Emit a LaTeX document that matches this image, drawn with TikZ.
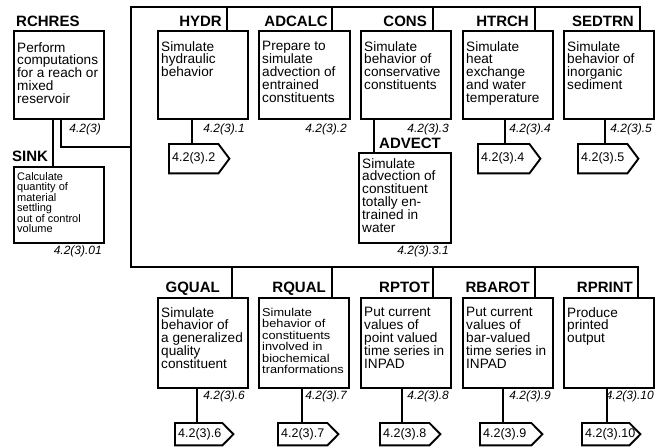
\documentclass[tikz,border=0pt]{standalone}
\usepackage{fontspec}
\setmainfont{Liberation Sans}
\newfontfamily\widesans[FakeStretch=1.12]{Liberation Sans}
\usetikzlibrary{calc}
\tikzset{
  box/.style={draw, line width=1.9pt, anchor=north west, inner sep=0pt, minimum height=88pt},
  boxtext/.style={anchor=north west, inner sep=0pt, align=left, font=\fontsize{13.6}{12.9}\selectfont},
  smalltext/.style={anchor=north west, inner sep=0pt, align=left, font=\widesans\fontsize{11.4}{11.4}\selectfont},
  tinytext/.style={anchor=north west, inner sep=0pt, align=left, font=\fontsize{11}{10}\selectfont},
  lab/.style={inner sep=0pt, font=\fontsize{15}{15}\selectfont\bfseries},
  num/.style={anchor=base east, inner sep=0pt, font=\fontsize{12}{12}\selectfont\itshape},
  conn/.style={anchor=north west, inner sep=0pt, minimum height=29pt, font=\fontsize{12.5}{12.5}\selectfont},
  ctext/.style={anchor=west, inner sep=0pt, font=\fontsize{12.5}{12.5}\selectfont},
  wire/.style={line width=1.9pt, line join=miter},
}
\newcommand{\pentagon}[1]{\draw[wire] (#1.north west) -- ($(#1.north east)+(-11,0)$) -- (#1.east) -- ($(#1.south east)+(-11,0)$) -- (#1.south west) -- cycle;}
\begin{document}
\begin{tikzpicture}[x=1pt,y=-1pt]
\useasboundingbox (0,0) rectangle (661,447);

% ---------- top row boxes
\node[box, minimum width=90pt] (rchres) at (13,30) {};
\node[box, minimum width=90pt] (hydr) at (157,30) {};
\node[box, minimum width=91pt] (adcalc) at (258,30) {};
\node[box, minimum width=90pt] (cons) at (360,30) {};
\node[box, minimum width=90pt] (htrch) at (462,30) {};
\node[box, minimum width=90pt] (sedtrn) at (563,30) {};
\node[box, minimum width=92pt, minimum height=90pt] (advect) at (358,152) {};
\node[box, minimum width=90pt, minimum height=76pt] (sink) at (13,166) {};

% ---------- bottom row boxes
\node[box, minimum width=90pt, minimum height=90pt] (gqual) at (157,297) {};
\node[box, minimum width=90pt, minimum height=90pt] (rqual) at (258,297) {};
\node[box, minimum width=90pt, minimum height=90pt] (rptot) at (360,297) {};
\node[box, minimum width=90pt, minimum height=90pt] (rbarot) at (462,297) {};
\node[box, minimum width=90pt, minimum height=90pt] (rprint) at (563,297) {};

% ---------- box texts
\node[boxtext] (rchres-t) at (17,42) {Perform\\computations\\for a reach or\\mixed\\reservoir};
\node[boxtext] (hydr-t) at (161,41) {Simulate\\hydraulic\\behavior};
\node[boxtext] (adcalc-t) at (262,41) {Prepare to\\simulate\\advection of\\entrained\\constituents};
\node[boxtext] (cons-t) at (364,41) {Simulate\\behavior of\\conservative\\constituents};
\node[boxtext] (htrch-t) at (466,41) {Simulate\\heat\\exchange\\and water\\temperature};
\node[boxtext] (sedtrn-t) at (567,41) {Simulate\\behavior of\\inorganic\\sediment};
\node[boxtext] (advect-t) at (362,158) {Simulate\\advection of\\constituent\\totally en-\\trained in\\water};
\node[tinytext] (sink-t) at (17,172) {Calculate\\quantity of\\material\\settling\\out of control\\volume};
\node[boxtext] (gqual-t) at (161,307) {Simulate\\behavior of\\a generalized\\quality\\constituent};
\node[smalltext] (rqual-t) at (262,308) {Simulate\\behavior of\\constituents\\involved in\\biochemical\\tranformations};
\node[boxtext] (rptot-t) at (364,307) {Put current\\values of\\point valued\\time series in\\INPAD};
\node[boxtext] (rbarot-t) at (466,307) {Put current\\values of\\bar-valued\\time series in\\INPAD};
\node[boxtext] (rprint-t) at (567,307) {Produce\\printed\\output};

% ---------- labels
\node[lab, anchor=base west] (rchres-l) at (16,27) {RCHRES};
\node[lab, anchor=base east] (hydr-l) at (222,27) {HYDR};
\node[lab, anchor=base east] (adcalc-l) at (328,27) {ADCALC};
\node[lab, anchor=base east] (cons-l) at (427,27) {CONS};
\node[lab, anchor=base east] (htrch-l) at (529,27) {HTRCH};
\node[lab, anchor=base east] (sedtrn-l) at (634,27) {SEDTRN};
\node[lab, anchor=base west] (advect-l) at (379,148) {ADVECT};
\node[lab, anchor=base west] (sink-l) at (12,161) {SINK};
\node[lab, anchor=base east] (gqual-l) at (220,292) {GQUAL};
\node[lab, anchor=base east] (rqual-l) at (326,292) {RQUAL};
\node[lab, anchor=base east] (rptot-l) at (430,292) {RPTOT};
\node[lab, anchor=base east] (rbarot-l) at (530,292) {RBAROT};
\node[lab, anchor=base east] (rprint-l) at (633,292) {RPRINT};

% ---------- numbers
\node[num] (rchres-n) at (101,132) {4.2(3)};
\node[num] (hydr-n) at (245,132) {4.2(3).1};
\node[num] (adcalc-n) at (347,132) {4.2(3).2};
\node[num] (cons-n) at (449,132) {4.2(3).3};
\node[num] (htrch-n) at (551,132) {4.2(3).4};
\node[num] (sedtrn-n) at (652,132) {4.2(3).5};
\node[num] (advect-n) at (449,254) {4.2(3).3.1};
\node[num] (sink-n) at (102,254) {4.2(3).01};
\node[num] (gqual-n) at (245,399) {4.2(3).6};
\node[num] (rqual-n) at (347,399) {4.2(3).7};
\node[num] (rptot-n) at (449,399) {4.2(3).8};
\node[num] (rbarot-n) at (551,399) {4.2(3).9};
\node[num] (rprint-n) at (654,399) {4.2(3).10};

% ---------- off-page connectors
\node[conn, minimum width=60pt] (c1) at (169,144) {};
\node[conn, minimum width=62pt] (c4) at (478,144) {};
\node[conn, minimum width=60pt] (c5) at (578,144) {};
\node[conn, minimum width=58pt, minimum height=22pt] (c6) at (175,423) {};
\node[conn, minimum width=60pt, minimum height=22pt] (c7) at (278,423) {};
\node[conn, minimum width=60pt, minimum height=22pt] (c8) at (380,423) {};
\node[conn, minimum width=62pt, minimum height=22pt] (c9) at (480,423) {};
\node[conn, minimum width=58pt, minimum height=22pt] (c10) at (582,423) {};
\pentagon{c1}\pentagon{c4}\pentagon{c5}\pentagon{c6}\pentagon{c7}\pentagon{c8}\pentagon{c9}\pentagon{c10}
\node[ctext] (c1-t) at ($(c1.west)+(3,0)$) {4.2(3).2};
\node[ctext] (c4-t) at ($(c4.west)+(3,0)$) {4.2(3).4};
\node[ctext] (c5-t) at ($(c5.west)+(3,0)$) {4.2(3).5};
\node[ctext] (c6-t) at ($(c6.west)+(3,0)$) {4.2(3).6};
\node[ctext] (c7-t) at ($(c7.west)+(3,0)$) {4.2(3).7};
\node[ctext] (c8-t) at ($(c8.west)+(3,0)$) {4.2(3).8};
\node[ctext] (c9-t) at ($(c9.west)+(3,0)$) {4.2(3).9};
\node[ctext] (c10-t) at ($(c10.west)+(3,0)$) {4.2(3).10};

% ---------- bus coordinates
\coordinate (bus-tl) at (131,7);
\coordinate (bus-bl) at (131,267);
\coordinate (rch-join) at (131,147);
\coordinate (hydr-in) at ($(hydr.north west)+(70,0)$);
\coordinate (adcalc-in) at ($(adcalc.north west)+(74,0)$);
\coordinate (cons-in) at ($(cons.north west)+(73,0)$);
\coordinate (htrch-in) at ($(htrch.north west)+(73,0)$);
\coordinate (sedtrn-in) at ($(sedtrn.north west)+(77,0)$);
\coordinate (gqual-in) at ($(gqual.north west)+(75,0)$);
\coordinate (rqual-in) at ($(rqual.north west)+(74,0)$);
\coordinate (rptot-in) at ($(rptot.north west)+(73,0)$);
\coordinate (rbarot-in) at ($(rbarot.north west)+(73,0)$);
\coordinate (rprint-in) at ($(rprint.north west)+(75,0)$);

% ---------- buses
\draw[wire] (sedtrn-in) -- (sedtrn-in |- bus-tl) -- (bus-tl) -- (bus-bl) -- (rprint-in |- bus-bl) -- (rprint-in);
\foreach \b in {hydr,adcalc,cons,htrch}{
  \draw[wire] (\b-in) -- (\b-in |- bus-tl);
}
\foreach \b in {gqual,rqual,rptot,rbarot}{
  \draw[wire] (\b-in) -- (\b-in |- bus-bl);
}
\draw[wire] ($(rchres.south west)+(48,0)$) |- (rch-join);
\draw[wire] ($(rchres.south west)+(40,0)$) -- ($(sink.north west)+(40,0)$);
\draw[wire] ($(cons.south west)+(14,0)$) -- ($(advect.north west)+(16,0)$);

% ---------- connector stems
\draw[wire] ($(hydr.south west)+(35,0)$) -- ($(c1.north west)+(23,0)$);
\draw[wire] ($(htrch.south west)+(43,0)$) -- ($(c4.north west)+(27,0)$);
\draw[wire] ($(sedtrn.south west)+(42,0)$) -- ($(c5.north west)+(27,0)$);
\draw[wire] ($(gqual.south west)+(40,0)$) -- ($(c6.north west)+(22,0)$);
\draw[wire] ($(rqual.south west)+(44,0)$) -- ($(c7.north west)+(24,0)$);
\draw[wire] ($(rptot.south west)+(42,0)$) -- ($(c8.north west)+(22,0)$);
\draw[wire] ($(rbarot.south west)+(41,0)$) -- ($(c9.north west)+(23,0)$);
\draw[wire] ($(rprint.south west)+(44,0)$) -- ($(c10.north west)+(25,0)$);
\end{tikzpicture}
\end{document}
